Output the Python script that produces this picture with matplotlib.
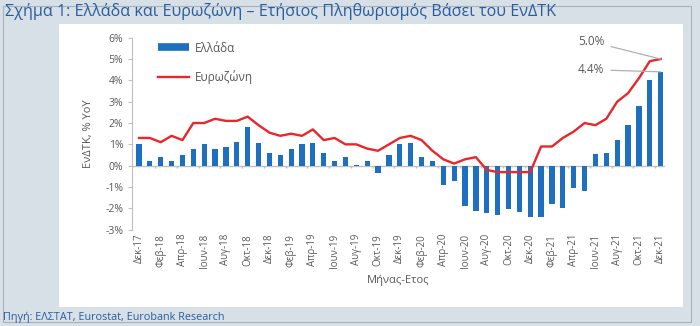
import numpy as np
import matplotlib.pyplot as plt
from matplotlib.patches import Rectangle
from matplotlib.lines import Line2D

plt.rcParams['font.family'] = ['Open Sans', 'DejaVu Sans']

# Μήνες Δεκ-17 .. Δεκ-21
mines = ['Ιαν', 'Φεβ', 'Μαρ', 'Απρ', 'Μαϊ', 'Ιουν', 'Ιουλ', 'Αυγ', 'Σεπ', 'Οκτ', 'Νοε', 'Δεκ']
etiketes = ['Δεκ-17'] + [f'{m}-{y}' for y in ['18', '19', '20', '21'] for m in mines]

# ΕνΔΤΚ % YoY
ellada = [1.0, 0.2, 0.4, 0.2, 0.5, 0.8, 1.0, 0.8, 0.9, 1.1, 1.8, 1.05,
          0.6, 0.5, 0.8, 1.0, 1.05, 0.6, 0.2, 0.4, 0.05, 0.2, -0.35, 0.5,
          1.0, 1.05, 0.4, 0.2, -0.9, -0.7, -1.9, -2.1, -2.2, -2.3, -2.05, -2.15,
          -2.4, -2.4, -1.8, -2.0, -1.05, -1.2, 0.55, 0.6, 1.2, 1.9, 2.8, 4.0, 4.4]
evrozoni = [1.3, 1.3, 1.1, 1.4, 1.2, 2.0, 2.0, 2.2, 2.1, 2.1, 2.3, 1.9,
            1.55, 1.4, 1.5, 1.4, 1.7, 1.2, 1.3, 1.0, 1.0, 0.8, 0.7, 1.0,
            1.3, 1.4, 1.2, 0.7, 0.3, 0.1, 0.3, 0.4, -0.2, -0.3, -0.3, -0.3,
            -0.3, 0.9, 0.9, 1.3, 1.6, 2.0, 1.9, 2.2, 3.0, 3.4, 4.1, 4.9, 5.0]

grey_txt = '#595959'
blue = '#1f6fc1'
red = '#e8262b'

fig = plt.figure(figsize=(7, 3.26), dpi=100)
fig.patch.set_facecolor('#d7dfe7')

# white chart panel
fig.add_artist(Rectangle((59 / 700, 1 - 307 / 326), 624 / 700, 283 / 326,
                         transform=fig.transFigure, facecolor='white',
                         edgecolor='none', zorder=0))
fig.add_artist(Rectangle((3 / 700, 1 - 322 / 326), 688 / 700, 316 / 326,
                         transform=fig.transFigure, facecolor='none',
                         edgecolor='#a8b0b8', lw=0.8, zorder=0))

ax = fig.add_axes([131.7 / 700, 1 - 229.7 / 326, 533.3 / 700, 192 / 326])
ax.set_facecolor('none')

x = np.arange(len(etiketes))
ax.bar(x, ellada, width=0.48, color=blue, zorder=2)
ax.plot(x, evrozoni, color=red, lw=1.7, zorder=3)

ax.set_xlim(-0.67, 48.4)
ax.set_ylim(-3, 6)
ax.set_yticks(range(-3, 7))
ax.set_yticklabels([f'{v}%' for v in range(-3, 7)], color=grey_txt, fontsize=7.5)
ax.tick_params(axis='y', length=3, color='#bfbfbf', pad=3)

ax.set_xticks(x[::2])
ax.set_xticklabels(etiketes[::2], rotation=90, color=grey_txt, fontsize=7)
ax.tick_params(axis='x', length=0, pad=3)

for s in ['top', 'right', 'bottom']:
    ax.spines[s].set_visible(False)
ax.spines['left'].set_color('#bfbfbf')

# zero line with category tick marks
ax.axhline(0, color='#bfbfbf', lw=1, zorder=1)
ax.vlines(x[1:-1:2] + 0.5, -0.1, 0, color='#bfbfbf', lw=1, zorder=1)

ax.set_xlabel('Μήνας-Ετος', color=grey_txt, fontsize=8, labelpad=5)
ax.set_ylabel('ΕνΔΤΚ, % YoY', color=grey_txt, fontsize=8, labelpad=8)

handles = [Line2D([], [], color=blue, lw=5.5, solid_capstyle='butt'),
           Line2D([], [], color=red, lw=1.7)]
ax.legend(handles, ['Ελλάδα', 'Ευρωζώνη'], loc='upper left',
          bbox_to_anchor=(0.03, 1.035), frameon=False,
          fontsize=8.5, labelcolor=grey_txt, handlelength=2.6,
          labelspacing=1.3, handletextpad=0.5)

# annotations for the last values
ax.annotate(f'{evrozoni[-1]:.1f}%', xy=(x[-1], evrozoni[-1]), xytext=(42.8, 5.82),
            ha='right', va='center', color=grey_txt, fontsize=8.5,
            arrowprops=dict(arrowstyle='-', color='#b0b0b0', lw=0.9,
                            shrinkA=3, shrinkB=0), annotation_clip=False)
ax.annotate(f'{ellada[-1]:.1f}%', xy=(x[-1], ellada[-1]), xytext=(42.8, 4.5),
            ha='right', va='center', color=grey_txt, fontsize=8.5,
            arrowprops=dict(arrowstyle='-', color='#b0b0b0', lw=0.9,
                            shrinkA=3, shrinkB=0), annotation_clip=False)

fig.text(5 / 700, 1 - 12 / 326, 'Σχήμα 1: Ελλάδα και Ευρωζώνη – Ετήσιος Πληθωρισμός Βάσει του ΕνΔΤΚ',
         color='#2a5d9f', fontsize=11.6, va='center', ha='left')
fig.text(3 / 700, 1 - 317 / 326, 'Πηγή: ΕΛΣΤΑΤ, Eurostat, Eurobank Research',
         color='#2a5d9f', fontsize=7.8, va='center', ha='left')

fig.savefig('out.png', dpi=100, facecolor=fig.get_facecolor())
